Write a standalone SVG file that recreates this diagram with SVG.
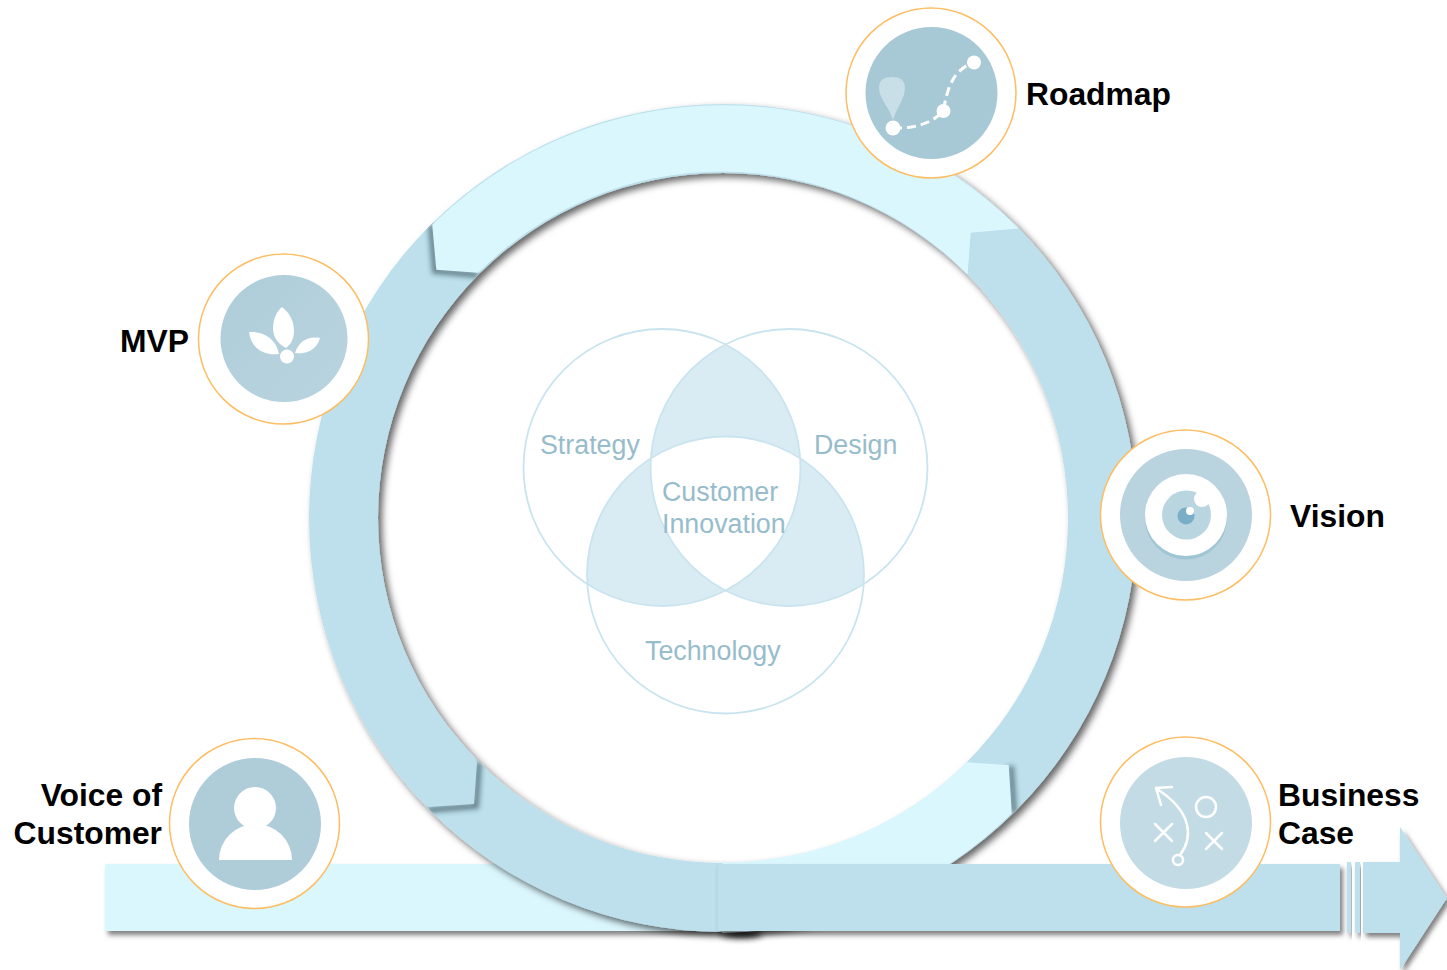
<svg xmlns="http://www.w3.org/2000/svg" width="1447" height="970" viewBox="0 0 1447 970">
<style>
.dark{fill:#bde0ec}
.lightbar{fill:#dbf7fe}
.light{fill:#dbf7fe;stroke:#dbf7fe;stroke-width:1.400}
.halo{fill:#fff;stroke:#fdbd62;stroke-width:1.5}
.label{font:bold 31.800px "Liberation Sans",Arial,sans-serif;fill:#000}
.venn{font:26.800px "Liberation Sans",Arial,sans-serif;fill:#97bccb}
.ring{fill:none;stroke:#c9e4ef;stroke-width:1.800}
.lens{fill:#d9ebf3}
.w{fill:#fff}
.ws{fill:none;stroke:#fff;stroke-width:2.5;stroke-linecap:round;stroke-linejoin:round}
.notch{fill:none;stroke:#1c3540;stroke-opacity:.55;stroke-width:6;filter:url(#soft)}
</style>
<defs>
<filter id="sh" x="-10%" y="-10%" width="120%" height="125%"><feDropShadow dx="4" dy="4" stdDeviation="3.500" flood-color="#000" flood-opacity=".6"/></filter>
<filter id="shBar" x="-5%" y="-20%" width="110%" height="150%"><feDropShadow dx="3" dy="4" stdDeviation="2.500" flood-color="#000" flood-opacity=".5"/></filter>
<filter id="soft" filterUnits="userSpaceOnUse" x="300" y="150" width="850" height="750"><feGaussianBlur stdDeviation="2.500"/></filter>
<filter id="blur" x="-30%" y="-100%" width="160%" height="300%"><feGaussianBlur stdDeviation="3"/></filter>
<clipPath id="annulus"><path clip-rule="evenodd" d="M309 518a414 414 0 1 0 828 0a414 414 0 1 0 -828 0ZM378 518a345 345 0 1 0 690 0a345 345 0 1 0 -690 0Z"/></clipPath>
<clipPath id="c1"><circle cx="662" cy="467.500" r="138.500"/></clipPath>
<clipPath id="c2"><circle cx="789" cy="467.500" r="138.500"/></clipPath>
<clipPath id="c3"><circle cx="725.500" cy="575" r="138.500"/></clipPath>
<linearGradient id="mvpFill" x1="0" y1="0" x2="1" y2="1"><stop offset="0" stop-color="#aecdd9"/><stop offset="1" stop-color="#b9d4df"/></linearGradient>
</defs>

<g id="connectors">
<rect class="lightbar" x="105" y="864" width="615" height="67" filter="url(#shBar)"/>
<ellipse cx="742" cy="934" rx="20" ry="4" fill="#222" filter="url(#blur)"/>
<path class="dark" fill-rule="evenodd" filter="url(#sh)" d="M309 518a414 414 0 1 0 828 0a414 414 0 1 0 -828 0ZM378 518a345 345 0 1 0 690 0a345 345 0 1 0 -690 0Z"/>
<g clip-path="url(#annulus)"><path class="notch" d="M1011 766L1014 813"/></g>
<path class="light" d="M967 763L1008 766L1011 813A414 414 0 0 1 723 932L723 863A345 345 0 0 0 967 763Z"/>
<g clip-path="url(#annulus)"><path class="notch" d="M479 762L476 806L428 810"/></g>
<path class="dark" d="M477 762L474 804L428 807A414 414 0 0 1 433 225L437 269L478 272A345 345 0 0 0 477 762Z"/>
<g clip-path="url(#annulus)"><path class="notch" d="M431 225L435 271L478 275"/></g>
<path class="light" d="M433 225A414 414 0 0 1 1017 228L970 232L967 273A345 345 0 0 0 478 272L437 269Z"/>
<rect class="dark" x="717" y="864" width="623" height="67" filter="url(#shBar)"/>
<rect x="717" y="864" width="1" height="67" fill="#b4d8e5"/>
<rect class="dark" x="1347" y="862" width="4" height="71" filter="url(#shBar)"/>
<rect class="dark" x="1355" y="862" width="5" height="71" filter="url(#shBar)"/>
<path class="dark" filter="url(#shBar)" d="M1363 862H1400V827L1447 898L1400 970V933H1363Z"/>
</g>

<g id="venn">
<g clip-path="url(#c1)"><circle class="lens" cx="789" cy="467.500" r="138.500"/><circle class="lens" cx="725.500" cy="575" r="138.500"/></g>
<g clip-path="url(#c2)"><circle class="lens" cx="725.500" cy="575" r="138.500"/></g>
<g clip-path="url(#c1)"><g clip-path="url(#c2)"><circle class="w" cx="725.500" cy="575" r="138.500"/></g></g>
<circle class="ring" cx="662" cy="467.500" r="138.500"/>
<circle class="ring" cx="789" cy="467.500" r="138.500"/>
<circle class="ring" cx="725.500" cy="575" r="138.500"/>
<text class="venn" x="540" y="454">Strategy</text>
<text class="venn" x="814" y="454">Design</text>
<text class="venn" x="662" y="501">Customer</text>
<text class="venn" x="662" y="533">Innovation</text>
<text class="venn" x="645" y="660">Technology</text>
</g>

<g id="node-roadmap">
<circle class="halo" cx="931" cy="93" r="85"/>
<circle cx="931.500" cy="93" r="66" fill="#a7c8d5"/>
<path d="M893 120C888 105 879 98 879 88C879 80 884 77 892 77C900 77 905 80 905 88C905 98 898 105 893 120Z" fill="#c9dfe7"/>
<path d="M893 128C912 129 932 124 943 111C948 90 950 72 974 62" fill="none" stroke="#fff" stroke-width="3" stroke-dasharray="9 5"/>
<circle class="w" cx="893" cy="128" r="7.500"/>
<circle class="w" cx="943.500" cy="111" r="7"/>
<circle class="w" cx="974" cy="62.500" r="7"/>
<text class="label" x="1026" y="105">Roadmap</text>
</g>

<g id="node-mvp">
<circle class="halo" cx="283.500" cy="339" r="85"/>
<circle cx="284" cy="338.500" r="63.500" fill="url(#mvpFill)"/>
<path class="w" d="M282 307C290 313 294 322 294 331C294 340 290 345 286 348C278 344 273 337 273 328C273 320 276 312 282 307Z"/>
<path class="w" d="M249 332C262 331 276 338 279 354C265 356 251 349 249 332Z"/>
<path class="w" d="M320 338C317 349 307 355 295 353C299 341 308 336 320 338Z"/>
<circle class="w" cx="287" cy="356.500" r="7"/>
<text class="label" x="120" y="352">MVP</text>
</g>

<g id="node-vision">
<circle class="halo" cx="1185.500" cy="515" r="85"/>
<circle cx="1186" cy="515" r="66" fill="#b9d3df"/>
<circle cx="1186" cy="518.500" r="41" fill="#a0c5d4"/>
<circle class="w" cx="1186" cy="515" r="41"/>
<circle cx="1186.500" cy="515" r="24.500" fill="#b9d5e0"/>
<circle class="w" cx="1202" cy="499" r="8"/>
<circle cx="1186" cy="516" r="8.500" fill="#7aaec6"/>
<circle class="w" cx="1190" cy="511" r="4"/>
<text class="label" x="1290" y="527">Vision</text>
</g>

<g id="node-business-case">
<circle class="halo" cx="1185.500" cy="822" r="85"/>
<circle cx="1186" cy="823" r="66" fill="#c3dbe5"/>
<circle class="ws" cx="1178" cy="860" r="5"/>
<path class="ws" d="M1180 855C1193 838 1193 812 1157 789M1172 787L1156 788L1161 805"/>
<circle class="ws" cx="1206" cy="807" r="10"/>
<path class="ws" d="M1155 824L1172 841M1172 824L1155 841M1206 833L1222 849M1222 833L1206 849"/>
<text class="label" x="1278" y="806">Business</text>
<text class="label" x="1278" y="844">Case</text>
</g>

<g id="node-voice-of-customer">
<circle class="halo" cx="254.500" cy="823.500" r="85"/>
<circle cx="255" cy="824" r="66" fill="#afcdd9"/>
<circle class="w" cx="255" cy="808" r="21"/>
<path class="w" d="M219 860A36.500 36 0 0 1 292 860Z"/>
<text class="label" x="162" y="806" text-anchor="end">Voice of</text>
<text class="label" x="162" y="844" text-anchor="end">Customer</text>
</g>
</svg>
